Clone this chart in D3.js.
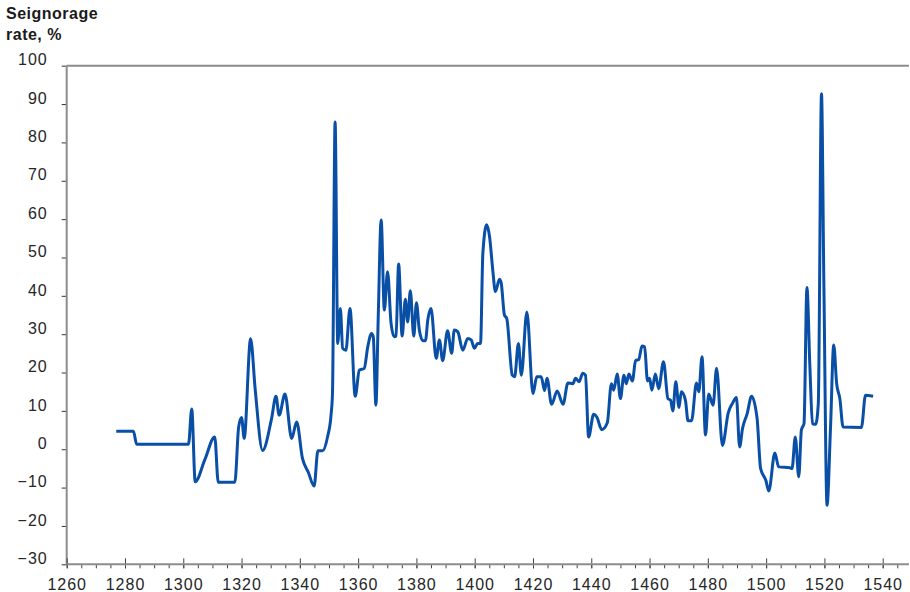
<!DOCTYPE html>
<html>
<head>
    <meta charset="utf-8">
    <title>Seignorage rate</title>
    <script src="https://d3js.org/d3.v7.min.js"></script>
    <style>
        body {
            margin: 0;
            background: #fff;
            font-family: "Liberation Sans", Arial, sans-serif;
        }
        .title { font-size: 16px; font-weight: bold; fill: #1a1a1a; letter-spacing: 0.5px; }
        .tick text { font-size: 16px; fill: #262626; font-family: "Liberation Sans", Arial, sans-serif; letter-spacing: 1px; }
    </style>
</head>
<body>
    <svg id="chart" width="910" height="592"></svg>
    <script>
        // values
        const years = [1277, 1282.9, 1284, 1301.8, 1302.9, 1304.1, 1307.4, 1310.8, 1312, 1317.7, 1319,
            1320, 1320.9, 1323.1, 1324.7, 1327.2, 1330.3, 1331.8, 1332.9, 1334.9, 1337.2,
            1338.9, 1340.9, 1342.9, 1344.9, 1346.2, 1347.8, 1349.5, 1350.7, 1351.2, 1352.1, 1353,
            1353.9, 1354.7, 1355.8, 1357.2, 1359, 1360.4, 1362.1, 1363.3, 1364.6, 1365.2,
            1366.1, 1366.9, 1367.9, 1369, 1370.1, 1371.3, 1372.4, 1373, 1373.9, 1375.1,
            1376.2, 1377, 1377.9, 1379.1, 1380, 1381, 1382.2, 1383.1, 1383.9, 1385,
            1386.8, 1387.9, 1389, 1390.7, 1392.1, 1393, 1394.2, 1395.9, 1397.6, 1398.8,
            1399.9, 1401, 1402, 1402.8, 1404.1, 1405.1, 1406.2, 1407.1, 1408.5, 1409.1,
            1410.2, 1411, 1412.9, 1413.7, 1415, 1416, 1417.9, 1420, 1421.3, 1422.8,
            1424, 1424.8, 1426.4, 1428.3, 1430.3, 1432, 1433.7, 1434.6, 1435.8, 1437.1,
            1438, 1439.1, 1440.8, 1441.9, 1443.6, 1445.5, 1446.9, 1447.7, 1448.9, 1450,
            1451.2, 1452, 1452.9, 1454.1, 1455.2, 1456.3, 1457.4, 1458.3, 1459.3, 1460,
            1460.8, 1462, 1463.1, 1464.8, 1466.3, 1467.2, 1468, 1469, 1470.1, 1470.9,
            1472.3, 1473.2, 1474.4, 1476.1, 1476.9, 1478, 1479.2, 1480.3, 1481.8, 1483,
            1485, 1487, 1488.4, 1489.8, 1490.9, 1491.9, 1493.5, 1495, 1496.9, 1498.1,
            1499.9, 1500.9, 1503, 1504.3, 1508.1, 1508.9, 1510, 1511.2, 1512.1, 1513,
            1514, 1515, 1515.9, 1517, 1517.9, 1519, 1519.8, 1520.9, 1522.1, 1523.2,
            1524.2, 1525.3, 1526.4, 1532.7, 1534.1, 1536.7];
        const rates = [4.7, 4.7, 1.3, 1.3, 10.5, -8.5, -2.7, 3.2, -8.6, -8.6, 5.8,
            8.3, 2.8, 28.8, 15.4, -0.3, 8, 13.8, 8.9, 14.4, 2.8,
            7.1, -2.4, -6, -9.6, -0.4, -0.4, 3.2, 8.9, 14.6, 85.3, 27.6,
            36.7, 26.3, 25.8, 36.7, 13.8, 20.6, 21.1, 26.7, 30.2, 29.3,
            11.5, 34.5, 59.8, 36.3, 46.3, 32.8, 29.3, 29.5, 48.3, 29.5,
            39.1, 33.2, 41.3, 29.5, 38.2, 31.1, 28.3, 28.3, 33.7, 36.7,
            23.7, 28.5, 23.1, 30.9, 25, 31.1, 30.6, 25.8, 28.9, 28.5,
            26.3, 27.6, 27.6, 51.1, 58.5, 55.4, 46.7, 41.1, 44.3, 43.3,
            35, 34.1, 19.3, 18.9, 27.6, 19.3, 35.8, 14.5, 18.9, 18.9,
            15.3, 18.5, 11.7, 15.2, 11.7, 17.3, 17.1, 18.5, 17.6, 19.8,
            19.3, 3.2, 9.1, 8.4, 5.1, 6.9, 17.1, 15.4, 19.6, 13.2,
            19.3, 17.1, 19.6, 17.8, 23.1, 23.4, 26.9, 26.7, 17.8, 18.5,
            15.4, 19.6, 15.8, 22.8, 13.2, 12.8, 10, 17.6, 10.9, 15,
            12.8, 7.4, 7.4, 17.3, 15, 24.1, 3.7, 14.4, 11.5, 21.1,
            1, 9.5, 11.9, 13.5, 0.6, 5.4, 9.3, 13.8, 8, -5,
            -8.1, -10.9, -1, -4.6, -4.8, -5, 3.2, -7.2, 5, 6.7,
            42.2, 21.9, 6.7, 6.5, 11.9, 92.7, 44.1, -14.6, 5.8, 27.2,
            17.1, 13.2, 5.8, 5.7, 14.1, 13.8];
        const xTicks = d3.range(1260, 1541, 20);
        const xMinorTicks = d3.range(1260, 1546, 5);
        const yTicks = d3.range(-30, 101, 10);

        const svg = d3.select('#chart');

        const x = d3.scaleLinear().domain([1260, 1540]).range([66.7, 882.7]);
        const y = d3.scaleLinear().domain([-30, 100]).range([564.3, 65.7]);

        // title
        svg.append('text').attr('class', 'title').attr('x', 6).attr('y', 19).text('Seignorage');
        svg.append('text').attr('class', 'title').attr('x', 6).attr('y', 40).text('rate, %');

        // top frame line
        svg.append('line')
            .attr('x1', x(1260)).attr('x2', x(1549))
            .attr('y1', y(100)).attr('y2', y(100))
            .attr('stroke', '#8c8c8c').attr('stroke-width', 2);

        // y axis
        const yAxis = svg.append('g')
            .attr('transform', `translate(${x(1260)},0)`)
            .call(d3.axisLeft(y).tickValues(yTicks).tickSize(5).tickPadding(14));
        yAxis.select('.domain').remove();
        yAxis.selectAll('.tick line').attr('stroke', '#333');
        yAxis.selectAll('.tick text').attr('dy', '-0.05em');
        svg.append('line')
            .attr('x1', x(1260)).attr('x2', x(1260))
            .attr('y1', y(100)).attr('y2', y(-30))
            .attr('stroke', '#8c8c8c').attr('stroke-width', 2);

        // x axis: minor ticks every 5 years, major every 20
        const xMinor = svg.append('g')
            .attr('transform', `translate(0,${y(-30)})`)
            .call(d3.axisBottom(x).tickValues(xMinorTicks).tickSize(4).tickFormat(''));
        xMinor.select('.domain').remove();
        xMinor.selectAll('.tick line').attr('stroke', '#444');

        const xAxis = svg.append('g')
            .attr('transform', `translate(0,${y(-30)})`)
            .call(d3.axisBottom(x).tickValues(xTicks).tickSize(4).tickPadding(10).tickFormat(d3.format('d')));
        xAxis.select('.domain').remove();
        xAxis.selectAll('.tick line').attr('y1', -6).attr('stroke', '#444');

        svg.append('line')
            .attr('x1', x(1260)).attr('x2', x(1549))
            .attr('y1', y(-30)).attr('y2', y(-30))
            .attr('stroke', '#8c8c8c').attr('stroke-width', 2);

        // series
        const line = d3.line()
            .x((d, i) => x(years[i]))
            .y(d => y(d))
            .curve(d3.curveMonotoneX);

        svg.append('path')
            .datum(rates)
            .attr('fill', 'none')
            .attr('stroke', '#0a4fa6')
            .attr('stroke-width', 3)
            .attr('stroke-linejoin', 'round')
            .attr('d', line);
    </script>
</body>
</html>
